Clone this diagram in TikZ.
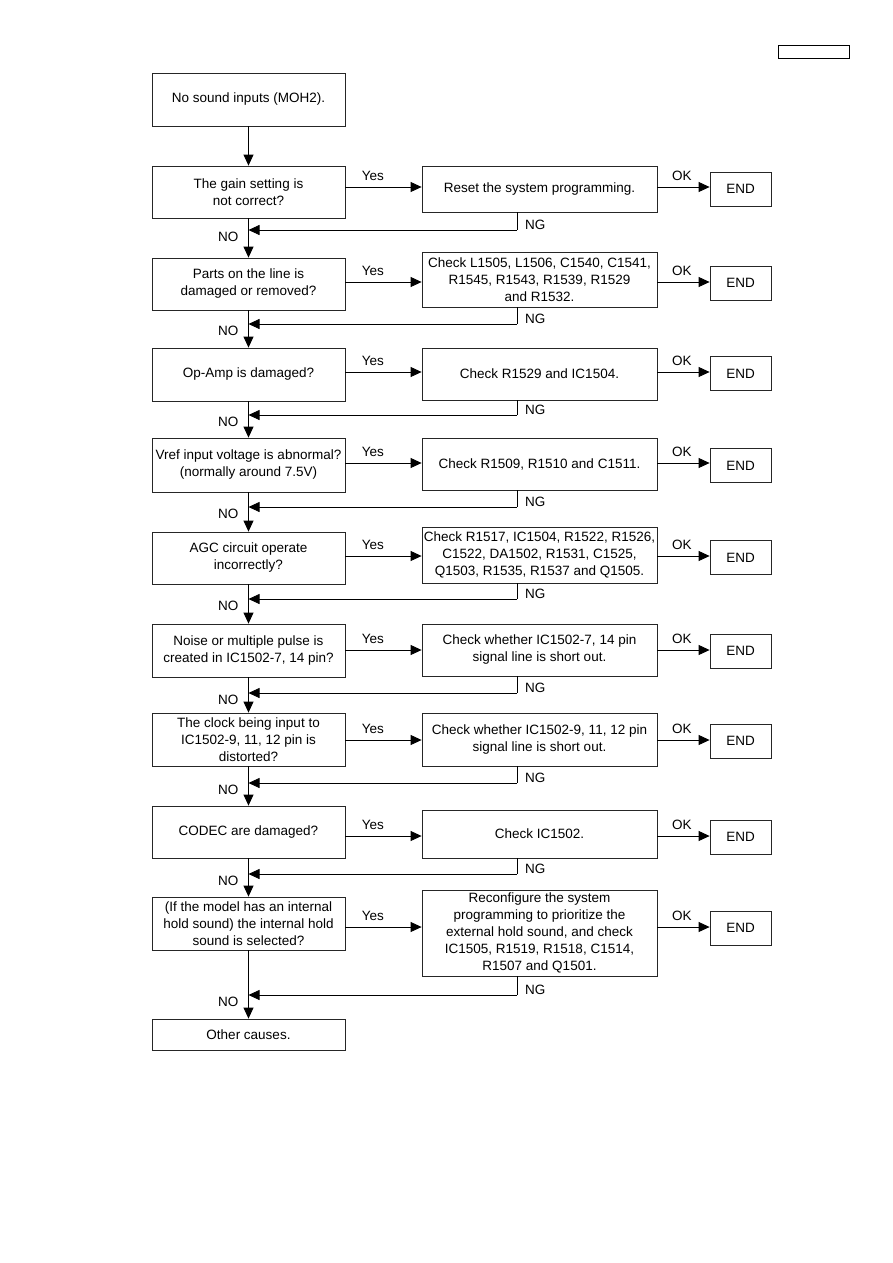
\documentclass[tikz,border=0pt]{standalone}
\usepackage{fontspec}
\setmainfont{Liberation Sans}
\usetikzlibrary{arrows.meta}
\begin{document}
\begin{tikzpicture}[x=1pt,y=-1pt,
  every node/.style={font=\fontsize{13.5}{17}\selectfont},
  box/.style={draw=black!85,line width=0.8pt,rectangle,inner sep=0pt,align=center},
  lbox/.style={box,minimum width=193},
  rbox/.style={box,minimum width=235},
  ebox/.style={box,minimum width=61,minimum height=34},
  conn/.style={draw=black,line width=0.8pt},
  arr/.style={conn,-{Triangle[length=11pt,width=10pt]}},
  lab/.style={inner sep=0pt}
]
\useasboundingbox (0,0) rectangle (893,1263);
% header box
\node[draw=black,line width=1pt,minimum width=71,minimum height=13,inner sep=0pt] (hdr) at (813.5,52.5) {};

% left column
\node[lbox,minimum height=53] (L0) at (248.5,99.5) {No sound inputs (MOH2).};
\node[lbox,minimum height=52] (L1) at (248.5,192) {The gain setting is\\not correct?};
\node[lbox,minimum height=52] (L2) at (248.5,284) {Parts on the line is\\damaged or removed?};
\node[lbox,minimum height=53] (L3) at (248.5,374.5) {Op-Amp is damaged?};
\node[lbox,minimum height=54] (L4) at (248.5,465) {Vref input voltage is abnormal?\\(normally around 7.5V)};
\node[lbox,minimum height=52] (L5) at (248.5,558) {AGC circuit operate\\incorrectly?};
\node[lbox,minimum height=53] (L6) at (248.5,650.5) {Noise or multiple pulse is\\created in IC1502-7, 14 pin?};
\node[lbox,minimum height=53] (L7) at (248.5,739.5) {The clock being input to\\IC1502-9, 11, 12 pin is\\distorted?};
\node[lbox,minimum height=52] (L8) at (248.5,832) {CODEC are damaged?};
\node[lbox,minimum height=53] (L9) at (248.5,923.5) {(If the model has an internal\\hold sound) the internal hold\\sound is selected?};
\node[lbox,minimum height=31] (L10) at (248.5,1034.5) {Other causes.};

% right column
\node[rbox,minimum height=46] (R1) at (539.5,189) {Reset the system programming.};
\node[rbox,minimum height=55] (R2) at (539.5,279.5) {Check L1505, L1506, C1540, C1541,\\R1545, R1543, R1539, R1529\\and R1532.};
\node[rbox,minimum height=52] (R3) at (539.5,374) {Check R1529 and IC1504.};
\node[rbox,minimum height=52] (R4) at (539.5,464) {Check R1509, R1510 and C1511.};
\node[rbox,minimum height=56] (R5) at (539.5,555) {Check R1517, IC1504, R1522, R1526,\\C1522, DA1502, R1531, C1525,\\Q1503, R1535, R1537 and Q1505.};
\node[rbox,minimum height=52] (R6) at (539.5,650) {Check whether IC1502-7, 14 pin\\signal line is short out.};
\node[rbox,minimum height=53] (R7) at (539.5,739.5) {Check whether IC1502-9, 11, 12 pin\\signal line is short out.};
\node[rbox,minimum height=48] (R8) at (539.5,834) {Check IC1502.};
\node[rbox,minimum height=86] (R9) at (539.5,933) {Reconfigure the system\\programming to prioritize the\\external hold sound, and check\\IC1505, R1519, R1518, C1514,\\R1507 and Q1501.};

% END boxes
\node[ebox] (E1) at (740.5,189) {END};
\node[ebox] (E2) at (740.5,283) {END};
\node[ebox] (E3) at (740.5,373.5) {END};
\node[ebox] (E4) at (740.5,465.5) {END};
\node[ebox] (E5) at (740.5,557.5) {END};
\node[ebox] (E6) at (740.5,651) {END};
\node[ebox] (E7) at (740.5,741) {END};
\node[ebox] (E8) at (740.5,837) {END};
\node[ebox] (E9) at (740.5,928) {END};

% arrow heights
\coordinate (y1) at (0,187);
\coordinate (y2) at (0,282);
\coordinate (y3) at (0,372);
\coordinate (y4) at (0,463);
\coordinate (y5) at (0,556);
\coordinate (y6) at (0,650);
\coordinate (y7) at (0,740);
\coordinate (y8) at (0,836);
\coordinate (y9) at (0,927);
% NG return heights
\coordinate (n1) at (517,230);
\coordinate (n2) at (517,324);
\coordinate (n3) at (517,415);
\coordinate (n4) at (517,507);
\coordinate (n5) at (517,599);
\coordinate (n6) at (517,693);
\coordinate (n7) at (517,783);
\coordinate (n8) at (517,874);
\coordinate (n9) at (517,995);

% main vertical flow
\draw[arr] (L0) -- (L1);
\foreach \i/\j in {1/2,2/3,3/4,4/5,5/6,6/7,7/8,8/9,9/10}{
  \draw[arr] (L\i) -- (L\j);
}

\foreach \i in {1,...,9}{
  \draw[arr] (L\i.east |- y\i) -- (R\i.west |- y\i)
    node[lab,pos=0.36,above=6pt] {Yes};
  \draw[arr] (R\i.east |- y\i) -- (E\i.west |- y\i)
    node[lab,pos=0.47,above=6pt] {OK};
  \draw[conn] (R\i.south -| n\i) -- (n\i);
  \draw[arr] (n\i) -- (L\i.south |- n\i);
  \node[lab,anchor=west] at ([xshift=8pt,yshift=5pt]n\i) {NG};
  \node[lab,anchor=east] at ([xshift=-10pt,yshift=-7pt]L\i.south |- n\i) {NO};
}
\end{tikzpicture}
\end{document}
